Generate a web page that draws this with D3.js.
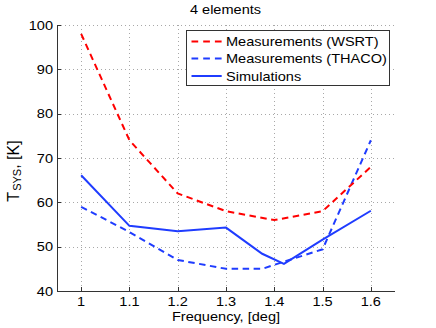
<!DOCTYPE html>
<html>
<head>
<meta charset="utf-8">
<script src="https://cdn.jsdelivr.net/npm/d3@7"></script>
<style>
html,body{margin:0;padding:0;background:#fff;}
svg{display:block;}
text{font-family:"Liberation Sans",Arial,Helvetica,sans-serif;fill:#000;}
</style>
</head>
<body>
<svg id="chart" width="436" height="328"></svg>
<script>
const title = "4 elements";
const xLabel = "Frequency, [deg]";
const xTicks = [1, 1.1, 1.2, 1.3, 1.4, 1.5, 1.6];
const yTicks = [40, 50, 60, 70, 80, 90, 100];
const seriesNames = ["Measurements (WSRT)", "Measurements (THACO)", "Simulations"];

const wsrtFreq = [1, 1.1, 1.2, 1.3, 1.4, 1.5, 1.6];
const wsrtTsys = [98, 74, 62, 58, 56, 58, 68];

const thacoFreq = [1, 1.1, 1.2, 1.3, 1.375, 1.42, 1.5, 1.6];
const thacoTsys = [59, 53.3, 47, 45, 45, 46.6, 49.4, 74];

const simFreq = [1, 1.1, 1.2, 1.3, 1.375, 1.42, 1.5, 1.6];
const simTsys = [66.1, 54.7, 53.5, 54.3, 48.4, 46.1, 51.6, 58.1];

const svg = d3.select("#chart");
const W = 436, H = 328;
const L = 57, R = 395, T = 25, B = 291;
const SX = 1.12, FS = 13;

const x = d3.scaleLinear().domain([0.95, 1.65]).range([L, R]);
const y = d3.scaleLinear().domain([40, 100]).range([B, T]);

svg.append("rect").attr("width", W).attr("height", H).attr("fill", "#fff");

// grid
const grid = svg.append("g").attr("stroke", "#a8a8a8").attr("stroke-width", 1).attr("stroke-dasharray", "1,3");
xTicks.forEach(v => {
  const px = Math.round(x(v)) + 0.5;
  grid.append("line").attr("x1", px).attr("x2", px).attr("y1", T).attr("y2", B);
});
yTicks.forEach(v => {
  const py = Math.round(y(v)) + 0.5;
  grid.append("line").attr("x1", L).attr("x2", R).attr("y1", py).attr("y2", py);
});

// axes lines
const ax = svg.append("g").attr("stroke", "#333").attr("stroke-width", 1).attr("fill", "none");
ax.append("line").attr("x1", L + 0.5).attr("x2", L + 0.5).attr("y1", T).attr("y2", B + 0.5);
ax.append("line").attr("x1", L).attr("x2", R).attr("y1", B + 0.5).attr("y2", B + 0.5);
yTicks.forEach(v => {
  const py = Math.round(y(v)) + 0.5;
  ax.append("line").attr("x1", L).attr("x2", L + 4).attr("y1", py).attr("y2", py);
});
xTicks.forEach(v => {
  const px = Math.round(x(v)) + 0.5;
  ax.append("line").attr("x1", px).attr("x2", px).attr("y1", B).attr("y2", B - 4);
});

// stretched text helper
function label(g, px, py, str, anchor, size) {
  return g.append("g").attr("transform", `translate(${px},${py}) scale(${SX},1)`)
    .append("text").attr("text-anchor", anchor).attr("font-size", size || FS).text(str);
}

const lab = svg.append("g");
yTicks.forEach(v => label(lab, L - 4, y(v) + 4.5, d3.format("d")(v), "end"));
xTicks.forEach(v => label(lab, x(v), 306, String(v), "middle"));
label(lab, (L + R) / 2, 320.5, xLabel, "middle");
label(lab, 225.5, 13.5, title, "middle");

// y label
const yl = svg.append("g").attr("transform", `translate(18.5,171) rotate(-90)`)
  .append("text").attr("text-anchor", "middle").attr("font-size", 16);
yl.append("tspan").text("T");
yl.append("tspan").attr("font-size", 11).attr("dy", 2.5).attr("dx", 1).text("SYS");
yl.append("tspan").attr("dy", -2.5).text(", [K]");

// lines
const line = d3.line().x(d => x(d[0])).y(d => y(d[1]));
const RED = "#ff0000", BLUE = "#1f3cff";
const DASH = "6.5,4.5";
const plot = svg.append("g").attr("fill", "none").attr("stroke-width", 2);

plot.append("path").datum(simFreq.map((f, i) => [f, simTsys[i]]))
  .attr("d", line).attr("stroke", BLUE);
plot.append("path").datum(thacoFreq.map((f, i) => [f, thacoTsys[i]]))
  .attr("d", line).attr("stroke", BLUE).attr("stroke-dasharray", DASH);
plot.append("path").datum(wsrtFreq.map((f, i) => [f, wsrtTsys[i]]))
  .attr("d", line).attr("stroke", RED).attr("stroke-dasharray", DASH);

// legend
const lg = svg.append("g");
lg.append("rect").attr("x", 186.5).attr("y", 30.5).attr("width", 203).attr("height", 55)
  .attr("fill", "#fff").attr("stroke", "#333").attr("stroke-width", 1);
const legColors = [RED, BLUE, BLUE];
const rows = [41.5, 58.5, 76];
seriesNames.forEach((n, i) => {
  const l = lg.append("line").attr("x1", 191.5).attr("x2", 221.7).attr("y1", rows[i]).attr("y2", rows[i])
    .attr("stroke", legColors[i]).attr("stroke-width", 2);
  l.attr("stroke-dasharray", i < 2 ? "6.7,5" : null);
  label(lg, 226, rows[i] + 4.5, n, "start");
});
</script>
</body>
</html>
